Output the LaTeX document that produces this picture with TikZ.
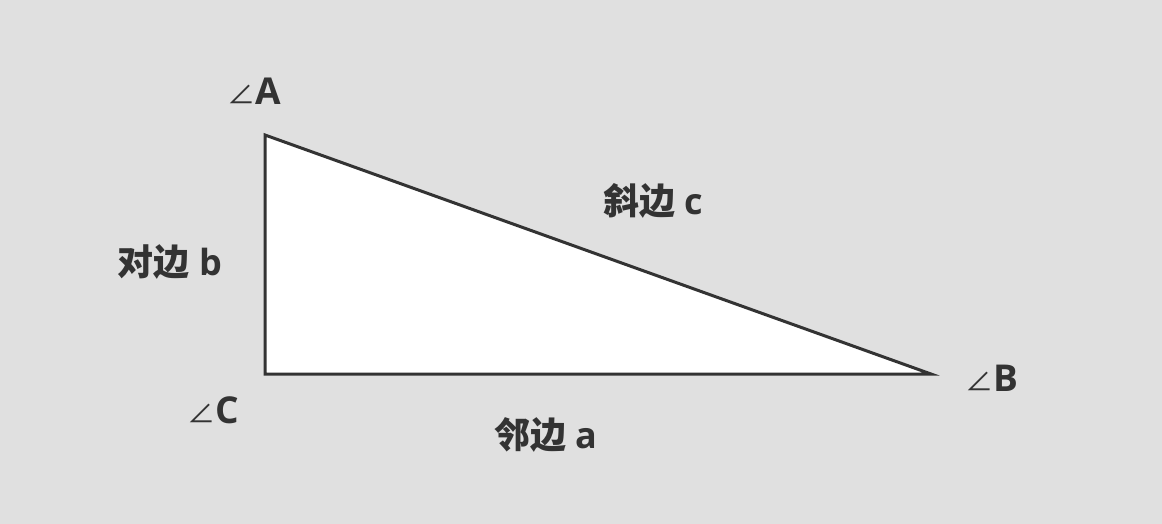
\documentclass[tikz,border=0pt]{standalone}
\usepackage{fontspec}
\setmainfont{Open Sans}
\newfontfamily\cjk{Noto Sans CJK SC}
\definecolor{bgray}{HTML}{E0E0E0}
\definecolor{ink}{HTML}{333333}
\begin{document}
\begin{tikzpicture}[
        x=1pt, y=-1pt,
        side/.style={ink, line width=3pt, line join=miter},
        lbl/.style={ink, font=\fontsize{36}{40}\selectfont\bfseries, inner sep=0pt},
        ang/.style={ink, font=\fontsize{37}{40}\selectfont\bfseries, inner sep=0pt}
    ]
        % === background ===
        \fill[bgray] (0,0) rectangle (1162,524);
        \useasboundingbox (0,0) rectangle (1162,524);

        % === triangle ===
        \coordinate (C) at (265,374);
        \coordinate (A) at (265,135);
        \coordinate (B) at (931,374);
        \filldraw[side, fill=white] (C) -- (A) -- (B) -- cycle;

        % === vertex labels ===
        \node[ang] (angA) at (254,91) {{\cjk\mdseries\fontsize{28}{30}\selectfont ∠}A};
        \node[ang] (angB) at (992,378) {{\cjk\mdseries\fontsize{28}{30}\selectfont ∠}B};
        \node[ang] (angC) at (213,410) {{\cjk\mdseries\fontsize{28}{30}\selectfont ∠}C};

        % === side labels ===
        \node[lbl] (hyp) at (653,201) {{\cjk 斜边} c};
        \node[lbl] (opp) at (170,262) {{\cjk 对边} b};
        \node[lbl] (adj) at (546,435) {{\cjk 邻边} a};
    \end{tikzpicture}
\end{document}
